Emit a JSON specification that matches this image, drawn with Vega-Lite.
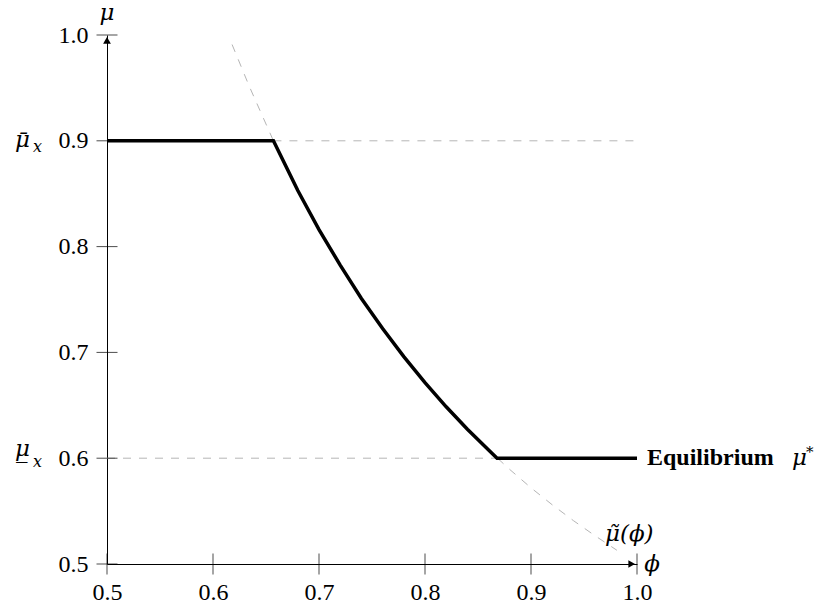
{
  "$schema": "https://vega.github.io/schema/vega-lite/v6.json",
  "width": 530,
  "height": 529,
  "autosize": "none",
  "padding": {"left": 107, "top": 35, "right": 178, "bottom": 47},
  "background": "white",
  "config": {
    "view": {"stroke": null},
    "font": "Liberation Serif",
    "axis": {"grid": false, "ticks": false, "domainColor": "black", "domainWidth": 1, "labelColor": "black", "labelFont": "Liberation Serif", "labelFontSize": 24, "labelFlush": false, "labelOverlap": false, "title": null, "format": ".1f"},
    "text": {"font": "DejaVu Serif", "fontStyle": "italic", "fontSize": 23, "align": "left", "baseline": "alphabetic", "color": "black"}
  },
  "datasets": {
    "eq": [
      {"phi": 0.5, "mu": 0.9},
      {"phi": 0.657, "mu": 0.9},
      {"phi": 0.68, "mu": 0.853},
      {"phi": 0.70, "mu": 0.816},
      {"phi": 0.72, "mu": 0.7825},
      {"phi": 0.74, "mu": 0.751},
      {"phi": 0.76, "mu": 0.7226},
      {"phi": 0.78, "mu": 0.696},
      {"phi": 0.80, "mu": 0.6714},
      {"phi": 0.82, "mu": 0.6486},
      {"phi": 0.84, "mu": 0.6274},
      {"phi": 0.86, "mu": 0.6077},
      {"phi": 0.868, "mu": 0.6},
      {"phi": 1.0, "mu": 0.6}
    ],
    "dashed": [
      {"s": "curve", "phi": 0.618, "mu": 0.991},
      {"s": "curve", "phi": 0.634, "mu": 0.952},
      {"s": "curve", "phi": 0.657, "mu": 0.9},
      {"s": "curve", "phi": 0.68, "mu": 0.853},
      {"s": "curve", "phi": 0.70, "mu": 0.816},
      {"s": "curve", "phi": 0.72, "mu": 0.7825},
      {"s": "curve", "phi": 0.74, "mu": 0.751},
      {"s": "curve", "phi": 0.76, "mu": 0.7226},
      {"s": "curve", "phi": 0.78, "mu": 0.696},
      {"s": "curve", "phi": 0.80, "mu": 0.6714},
      {"s": "curve", "phi": 0.82, "mu": 0.6486},
      {"s": "curve", "phi": 0.84, "mu": 0.6274},
      {"s": "curve", "phi": 0.86, "mu": 0.6077},
      {"s": "curve", "phi": 0.88, "mu": 0.5893},
      {"s": "curve", "phi": 0.90, "mu": 0.572},
      {"s": "curve", "phi": 0.92, "mu": 0.556},
      {"s": "curve", "phi": 0.94, "mu": 0.541},
      {"s": "curve", "phi": 0.96, "mu": 0.527},
      {"s": "curve", "phi": 0.981, "mu": 0.513},
      {"s": "hi", "phi": 0.657, "mu": 0.9},
      {"s": "hi", "phi": 1.0, "mu": 0.9},
      {"s": "lo", "phi": 0.5, "mu": 0.6},
      {"s": "lo", "phi": 0.868, "mu": 0.6}
    ],
    "xticks": [
      {"phi": 0.5, "mu": 0.5}, {"phi": 0.6, "mu": 0.5}, {"phi": 0.7, "mu": 0.5},
      {"phi": 0.8, "mu": 0.5}, {"phi": 0.9, "mu": 0.5}, {"phi": 1.0, "mu": 0.5}
    ],
    "yticks": [
      {"phi": 0.5, "mu": 0.5}, {"phi": 0.5, "mu": 0.6}, {"phi": 0.5, "mu": 0.7},
      {"phi": 0.5, "mu": 0.8}, {"phi": 0.5, "mu": 0.9}, {"phi": 0.5, "mu": 1.0}
    ]
  },
  "encoding": {
    "x": {"field": "phi", "type": "quantitative", "scale": {"domain": [0.5, 1.0], "nice": false, "zero": false}},
    "y": {"field": "mu", "type": "quantitative", "scale": {"domain": [0.5, 1.0], "nice": false, "zero": false}}
  },
  "layer": [
    {
      "data": {"name": "dashed"},
      "mark": {"type": "line", "color": "#b5b5b5", "strokeWidth": 1, "strokeDash": [8, 8]},
      "encoding": {
        "x": {"field": "phi", "type": "quantitative", "axis": {"values": [0.5, 0.6, 0.7, 0.8, 0.9, 1.0], "labelPadding": 16}},
        "y": {"field": "mu", "type": "quantitative", "axis": {"values": [0.5, 0.6, 0.7, 0.8, 0.9, 1.0], "labelPadding": 19}},
        "detail": {"field": "s", "type": "nominal"}
      }
    },
    {
      "data": {"name": "xticks"},
      "mark": {"type": "tick", "orient": "vertical", "size": 21, "thickness": 1, "color": "black"},
      "encoding": {}
    },
    {
      "data": {"name": "yticks"},
      "mark": {"type": "tick", "orient": "horizontal", "size": 21, "thickness": 1, "color": "black"},
      "encoding": {}
    },
    {
      "data": {"name": "eq"},
      "mark": {"type": "line", "color": "black", "strokeWidth": 3.5, "strokeJoin": "miter"},
      "encoding": {}
    },
    {
      "data": {"values": [{"phi": 0.5, "mu": 0.995, "shape": "triangle-up"}, {"phi": 0.995, "mu": 0.5, "shape": "triangle-right"}]},
      "mark": {"type": "point", "filled": true, "color": "black", "size": 60, "opacity": 1},
      "encoding": {"shape": {"field": "shape", "type": "nominal", "scale": null}}
    },
    {
      "data": {"values": [{"phi": 0.5, "mu": 1.0, "t": "μ"}]},
      "mark": {"type": "text", "align": "center", "dy": -15},
      "encoding": {"text": {"field": "t"}}
    },
    {
      "data": {"values": [{"phi": 1.0, "mu": 0.5, "t": "ϕ"}]},
      "mark": {"type": "text", "align": "center", "baseline": "middle", "dx": 15},
      "encoding": {"text": {"field": "t"}}
    },
    {
      "data": {"values": [{"phi": 1.0, "mu": 0.5, "t": "μ(ϕ)"}]},
      "mark": {"type": "text", "dx": -32, "dy": -23},
      "encoding": {"text": {"field": "t"}}
    },
    {
      "data": {"values": [{"phi": 1.0, "mu": 0.5, "t": "˜"}]},
      "mark": {"type": "text", "dx": -30, "dy": -22},
      "encoding": {"text": {"field": "t"}}
    },
    {
      "data": {"values": [{"phi": 0.5, "mu": 0.9, "t": "μ"}]},
      "mark": {"type": "text", "dx": -92, "dy": 6},
      "encoding": {"text": {"field": "t"}}
    },
    {
      "data": {"values": [{"phi": 0.5, "mu": 0.9, "t": "¯"}]},
      "mark": {"type": "text", "dx": -91, "dy": 8},
      "encoding": {"text": {"field": "t"}}
    },
    {
      "data": {"values": [{"phi": 0.5, "mu": 0.9, "t": "x"}]},
      "mark": {"type": "text", "fontSize": 16, "dx": -74, "dy": 11},
      "encoding": {"text": {"field": "t"}}
    },
    {
      "data": {"values": [{"phi": 0.5, "mu": 0.6, "t": "μ"}]},
      "mark": {"type": "text", "dx": -92, "dy": -2},
      "encoding": {"text": {"field": "t"}}
    },
    {
      "data": {"values": [{"phi": 0.5, "mu": 0.6, "t": "_"}]},
      "mark": {"type": "text", "dx": -91, "dy": 0},
      "encoding": {"text": {"field": "t"}}
    },
    {
      "data": {"values": [{"phi": 0.5, "mu": 0.6, "t": "x"}]},
      "mark": {"type": "text", "fontSize": 16, "dx": -74, "dy": 9},
      "encoding": {"text": {"field": "t"}}
    },
    {
      "data": {"values": [{"phi": 1.0, "mu": 0.6, "t": "Equilibrium"}]},
      "mark": {"type": "text", "font": "Liberation Serif", "fontStyle": "normal", "fontWeight": "bold", "fontSize": 24, "baseline": "middle", "dx": 10},
      "encoding": {"text": {"field": "t"}}
    },
    {
      "data": {"values": [{"phi": 1.0, "mu": 0.6, "t": "μ"}]},
      "mark": {"type": "text", "dx": 155, "dy": 7},
      "encoding": {"text": {"field": "t"}}
    },
    {
      "data": {"values": [{"phi": 1.0, "mu": 0.6, "t": "*"}]},
      "mark": {"type": "text", "fontStyle": "normal", "fontSize": 15, "baseline": "middle", "dx": 169, "dy": -6},
      "encoding": {"text": {"field": "t"}}
    }
  ]
}
